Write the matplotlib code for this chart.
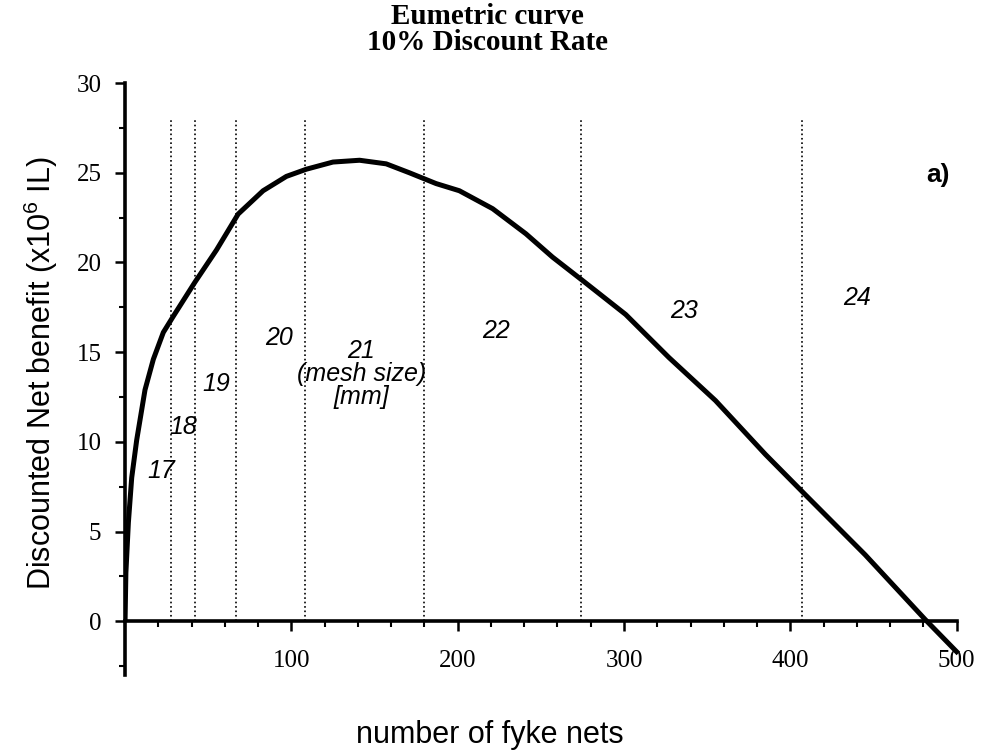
import numpy as np
import matplotlib
matplotlib.use('Agg')
import matplotlib.pyplot as plt
from matplotlib.ticker import MultipleLocator

plt.rcParams['mathtext.default'] = 'regular'

# eumetric curve
nets = [0, 0.5, 2, 4, 7, 12, 17, 23, 29, 42, 55, 68, 83, 97, 109, 125, 141,
        157, 171, 187, 201, 221, 241, 257, 275, 301, 327, 355, 385, 409, 445,
        481, 501]
benefit = [0.0, 2.7, 5.5, 8.0, 10.1, 12.9, 14.6, 16.1, 17.0, 18.9, 20.7, 22.7,
           24.0, 24.8, 25.2, 25.6, 25.7, 25.5, 25.0, 24.4, 24.0, 23.0, 21.6,
           20.3, 19.0, 17.1, 14.7, 12.3, 9.3, 7.05, 3.7, 0.1, -1.8]

# mesh size boundaries (dotted) and labels
mesh_bounds = [27.5, 42, 67, 108, 180, 274, 407]
mesh_labels = ['17', '18', '19', '20', '21\n(mesh size)\n[mm]', '22', '23', '24']
label_x = [22, 35, 55, 92.6, 142, 223, 336, 440]
label_y = [8.4, 10.8, 13.2, 15.8, 13.8, 16.2, 17.3, 18.0]

fig = plt.figure(figsize=(9.87, 7.53), dpi=100)
ax = fig.add_axes([0.1267, 0.1036, 0.851, 0.786])

for xb in mesh_bounds:
    ax.plot([xb, xb], [0, 28], color='black', linestyle=':', linewidth=1.2)

ax.plot(nets, benefit, color='black', linewidth=3.6, solid_capstyle='butt',
        solid_joinstyle='round')

for txt, lx, ly in zip(mesh_labels, label_x, label_y):
    ax.text(lx, ly, txt, ha='center', va='center', fontsize=18,
            style='italic', family='Liberation Sans', linespacing=0.95)

ax.text(489, 24.9, 'a)', ha='center', va='center', fontsize=19,
        fontweight='bold', family='Liberation Sans')

ax.set_xlim(0, 505)
ax.set_ylim(-3, 30)

for s in ['top', 'right']:
    ax.spines[s].set_visible(False)
ax.spines['bottom'].set_position(('data', 0))
ax.spines['bottom'].set_bounds(0, 500)
ax.spines['left'].set_bounds(-3, 30)
ax.spines['bottom'].set_linewidth(2.6)
ax.spines['left'].set_linewidth(2.6)

ax.xaxis.set_major_locator(MultipleLocator(100))
ax.xaxis.set_minor_locator(MultipleLocator(20))
ax.yaxis.set_major_locator(MultipleLocator(5))
ax.yaxis.set_minor_locator(MultipleLocator(2.5))
ax.set_xticks([100, 200, 300, 400, 500])
ax.set_yticks([0, 5, 10, 15, 20, 25, 30])

ax.tick_params(axis='x', which='major', direction='out', length=7, width=1.8,
               pad=14, labelsize=18)
ax.tick_params(axis='x', which='minor', direction='out', length=4, width=1.5)
ax.tick_params(axis='y', which='major', direction='out', length=7, width=1.8,
               pad=10, labelsize=18)
ax.tick_params(axis='y', which='minor', direction='out', length=4, width=1.5)
for lab in ax.get_xticklabels() + ax.get_yticklabels():
    lab.set_family('Liberation Serif')

fig.text(0.494, 0.978, 'Eumetric curve', ha='center', va='center',
         fontsize=21, fontweight='bold', family='Liberation Serif')
fig.text(0.494, 0.943, '10% Discount Rate', ha='center', va='center',
         fontsize=21, fontweight='bold', family='Liberation Serif')

fig.text(0.041, 0.505, r'Discounted Net benefit (x10$^6$ IL)', rotation=90,
         ha='center', va='center', fontsize=22, family='Liberation Sans')
fig.text(0.496, 0.024, 'number of fyke nets', ha='center', va='center',
         fontsize=22, family='Liberation Sans')

fig.savefig('out.png', dpi=100)
